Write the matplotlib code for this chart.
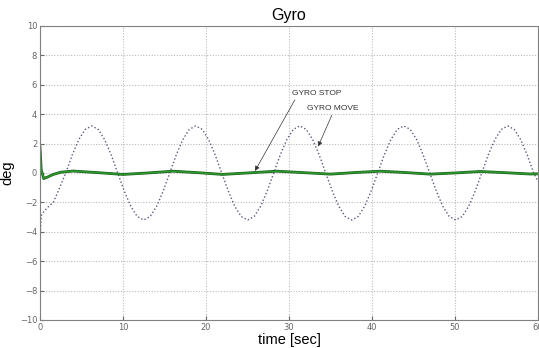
import numpy as np
import matplotlib
matplotlib.use("Agg")
import matplotlib.pyplot as plt

# GYRO MOVE (dotted)
move_t = [0.0, 0.05, 0.15, 0.5, 1.0, 1.6, 2.3,
          3.10, 3.88, 4.67, 5.45, 6.23, 7.02, 7.80, 8.58, 9.36, 10.15, 10.93, 11.71, 12.50, 13.28, 14.06, 14.85,
          15.63, 16.41, 17.20, 17.98, 18.76, 19.55, 20.33, 21.11, 21.89, 22.68, 23.46, 24.24, 25.03, 25.81, 26.59, 27.38,
          28.16, 28.94, 29.73, 30.51, 31.29, 32.08, 32.86, 33.64, 34.42, 35.21, 35.99, 36.77, 37.56, 38.34, 39.12, 39.91,
          40.69, 41.47, 42.26, 43.04, 43.82, 44.61, 45.39, 46.17, 46.95, 47.74, 48.52, 49.30, 50.09, 50.87, 51.65, 52.44,
          53.22, 54.00, 54.79, 55.57, 56.35, 57.14, 57.92, 58.70, 59.48, 60.0]
move_deg = ([-6.1, -4.0, -2.9, -2.6, -2.3, -2.0, -1.1]
            + [0, 1.22, 2.26, 2.96, 3.2, 2.96, 2.26, 1.22, 0, -1.22, -2.26, -2.96, -3.2, -2.96, -2.26, -1.22]
            + [0, 1.22, 2.26, 2.96, 3.2, 2.96, 2.26, 1.22, 0, -1.22, -2.26, -2.96, -3.2, -2.96, -2.26, -1.22]
            + [0, 1.22, 2.26, 2.96, 3.2, 2.96, 2.26, 1.22, 0, -1.22, -2.26, -2.96, -3.2, -2.96, -2.26, -1.22]
            + [0, 1.22, 2.26, 2.96, 3.2, 2.96, 2.26, 1.22, 0, -1.22, -2.26, -2.96, -3.2, -2.96, -2.26, -1.22]
            + [0, 1.22, 2.26, 2.96, 3.2, 2.96, 2.26, 1.22, 0, -0.6])

# GYRO STOP (green)
stop_t = [0, 0.15, 0.45, 0.9, 1.6, 2.5, 4, 7, 10, 13, 16, 19, 22, 25, 28.5, 31.5,
          35, 38, 41, 44, 47, 50, 53, 56, 59, 60]
stop_deg = [1.75, 0.2, -0.38, -0.28, -0.1, 0.05, 0.13, 0.02, -0.1, 0.0, 0.12, 0.02, -0.1, 0.0, 0.12, 0.03,
            -0.08, 0.03, 0.12, 0.03, -0.08, 0.0, 0.1, 0.02, -0.07, -0.06]

xticks = [0, 10, 20, 30, 40, 50, 60]
yticks = [-10, -8, -6, -4, -2, 0, 2, 4, 6, 8, 10]

fig = plt.figure(figsize=(5.39, 3.48), dpi=100)
ax = fig.add_axes([0.0742, 0.0805, 0.924, 0.845])

ax.plot(move_t, move_deg, color='#5a5a80', linestyle=(0, (1, 1.6)), linewidth=1.0)
ax.plot(stop_t, stop_deg, color='#1e5a1e', linewidth=2.0)
ax.plot(stop_t, stop_deg, color='#2a9a2a', linewidth=1.1)

ax.set_xlim(0, 60)
ax.set_ylim(-10, 10)
ax.set_xticks(xticks)
ax.set_yticks(yticks)
ax.grid(True, color='#bbbbbb', linestyle=(0, (1, 1.5)), linewidth=0.8)
ax.tick_params(direction='in', length=3, labelsize=6, colors='#666666', pad=2)
for s in ax.spines.values():
    s.set_color('#808080')

ax.set_title("Gyro", fontsize=11.5, family='Liberation Sans', pad=4)
ax.set_xlabel("time [sec]", fontsize=10.5, family='Liberation Sans', labelpad=1)
ax.set_ylabel("deg", fontsize=10.5, family='Liberation Sans', labelpad=4)

ax.annotate("GYRO STOP", xy=(25.9, 0.14), xytext=(30.3, 5.4), fontsize=6, family='Liberation Sans',
            color='#333333', va='center', ha='left',
            arrowprops=dict(arrowstyle='-|>', color='#333333', lw=0.5, mutation_scale=7,
                            shrinkA=0, shrinkB=0, relpos=(0.1, 0.0)))
ax.annotate("GYRO MOVE", xy=(33.5, 1.8), xytext=(32.2, 4.35), fontsize=6, family='Liberation Sans',
            color='#333333', va='center', ha='left',
            arrowprops=dict(arrowstyle='-|>', color='#333333', lw=0.5, mutation_scale=7,
                            shrinkA=0, shrinkB=0, relpos=(0.5, 0.0)))

fig.savefig("out.png", dpi=100)
